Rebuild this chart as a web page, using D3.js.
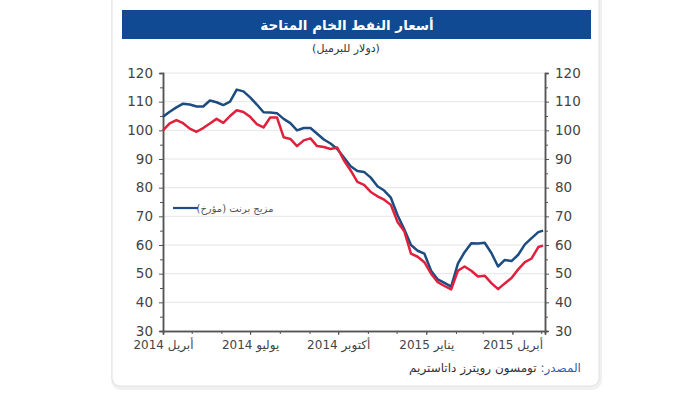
<!DOCTYPE html>
<html>
<head>
<meta charset="utf-8">
<script src="https://cdn.jsdelivr.net/npm/d3@7"></script>
<style>
  body { margin: 0; background: #fff; }
  svg { display: block; font-family: "DejaVu Sans", sans-serif; }
</style>
</head>
<body>
<svg id="chart" width="700" height="393"></svg>
<script>
// weekly readings, Brent (blue) and the red series
const dates = ["2014-04-01","2014-04-08","2014-04-15","2014-04-22","2014-04-29","2014-05-06","2014-05-13","2014-05-20",
  "2014-05-27","2014-06-03","2014-06-10","2014-06-17","2014-06-24","2014-07-01","2014-07-08","2014-07-15",
  "2014-07-22","2014-07-29","2014-08-05","2014-08-12","2014-08-19","2014-08-26","2014-09-02","2014-09-09",
  "2014-09-16","2014-09-23","2014-09-30","2014-10-07","2014-10-14","2014-10-21","2014-10-28","2014-11-04",
  "2014-11-11","2014-11-18","2014-11-25","2014-12-02","2014-12-09","2014-12-16","2014-12-23","2014-12-30",
  "2015-01-06","2015-01-13","2015-01-20","2015-01-27","2015-02-03","2015-02-10","2015-02-17","2015-02-24",
  "2015-03-03","2015-03-10","2015-03-17","2015-03-24","2015-03-31","2015-04-07","2015-04-14","2015-04-21",
  "2015-04-28","2015-05-03"];
const brent = [104.7,106.5,108,109.3,109,108.3,108.3,110.4,109.8,108.8,110,114.2,113.6,111.5,109,106.3,
  106.2,106,104,102.5,100,100.8,100.8,98.8,96.8,95.4,93.5,90.5,87.5,85.8,85.5,83.5,
  80.5,79,76.5,70.4,65.5,60,58,57,51,48,46.8,45.5,53.5,57.5,60.6,60.5,
  60.8,57.2,52.5,54.8,54.4,56.6,60.2,62.4,64.5,65];
const wti = [100,102.4,103.6,102.5,100.6,99.5,100.8,102.4,104,102.6,105,107,106.4,104.7,102.2,101,
  104.5,104.5,97.6,97,94.5,96.5,97.2,94.5,94.2,93.5,94,89.5,86,82,81,78.5,
  77,75.8,74,68,64.8,57,55.9,54,50,47,45.7,44.5,51,52.5,51,49,
  49.3,46.7,44.6,46.6,48.5,51.5,54,55.3,59.3,59.8];

const yTicks = [30,40,50,60,70,80,90,100,110,120];
const xTickDates = ["2014-04-01","2014-07-01","2014-10-01","2015-01-01","2015-04-01"];
const xTickLabels = ["أبريل 2014","يوليو 2014","أكتوبر 2014","يناير 2015","أبريل 2015"];

const title = "أسعار النفط الخام المتاحة";
const subtitle = "(دولار للبرميل)";
const legendLabel = "مزيج برنت (مؤرخ)";
const sourceLabel = "المصدر:";
const sourceText = "تومسون رويترز داتاستريم";

const parse = d3.timeParse("%Y-%m-%d");
const svg = d3.select("#chart");

// card
svg.append("rect").attr("x", 113).attr("y", -12).attr("width", 487).attr("height", 400)
  .attr("rx", 8).attr("fill", "none").attr("stroke", "#f0f0f0").attr("stroke-width", 4);
svg.append("rect").attr("x", 112).attr("y", -12).attr("width", 487).attr("height", 398)
  .attr("rx", 8).attr("fill", "#fff").attr("stroke", "#e2e2e2");

// header
svg.append("rect").attr("x", 122).attr("y", 10).attr("width", 469).attr("height", 29).attr("fill", "#0f4a92");
svg.append("text").attr("x", 347).attr("y", 30).attr("text-anchor", "middle")
  .style("direction", "rtl").attr("fill", "#fff").attr("font-weight", "bold").attr("font-size", 13.5).text(title);
svg.append("text").attr("x", 346).attr("y", 52).attr("text-anchor", "middle")
  .style("direction", "rtl").attr("fill", "#333").attr("font-size", 11).text(subtitle);

const x = d3.scaleTime().domain([parse("2014-04-01"), parse("2015-05-05")]).range([163, 545]);
const y = d3.scaleLinear().domain([30, 120]).range([331, 73]);

// grid
svg.append("g").selectAll("line").data(yTicks.slice(1)).enter().append("line")
  .attr("x1", 163).attr("x2", 545).attr("y1", d => y(d)).attr("y2", d => y(d))
  .attr("stroke", "#e6e6e6").attr("stroke-width", 1);

// minor ticks at 5s
const minor = d3.range(35, 120, 10);
const leftAxis = d3.axisLeft(y).tickValues(yTicks).tickSize(4).tickPadding(6);
const rightAxis = d3.axisRight(y).tickValues(yTicks).tickSize(4).tickPadding(6);
const gl = svg.append("g").attr("transform", "translate(163,0)").call(leftAxis);
const gr = svg.append("g").attr("transform", "translate(545,0)").call(rightAxis);
gl.append("g").call(d3.axisLeft(y).tickValues(minor).tickSize(3).tickFormat(""));
gr.append("g").call(d3.axisRight(y).tickValues(minor).tickSize(3).tickFormat(""));

const monthTicks = d3.timeMonth.range(parse("2014-04-01"), parse("2015-05-02"));
const bottomAxis = d3.axisBottom(x).tickValues(xTickDates.map(parse)).tickSize(4).tickPadding(5)
  .tickFormat((d, i) => xTickLabels[i]);
const gb = svg.append("g").attr("transform", "translate(0,331)").call(bottomAxis);
gb.append("g").call(d3.axisBottom(x).tickValues(monthTicks).tickSize(3).tickFormat(""));
gb.selectAll("text").style("direction", "rtl");

[gl, gr, gb].forEach(g => {
  g.selectAll(".domain").attr("stroke", "#555").attr("stroke-width", 1.5);
  g.selectAll("line").attr("stroke", "#555");
  g.selectAll("text").attr("fill", "#444").attr("font-size", 13.5).style("font-family", "DejaVu Sans");
});
gb.selectAll("text").attr("font-size", 12);

// lines
const lineFor = vals => d3.line().x((d, i) => x(parse(dates[i]))).y(d => y(d))(vals);
svg.append("path").attr("d", lineFor(brent)).attr("fill", "none")
  .attr("stroke", "#1d4c80").attr("stroke-width", 2.5).attr("stroke-linejoin", "round");
svg.append("path").attr("d", lineFor(wti)).attr("fill", "none")
  .attr("stroke", "#e0203c").attr("stroke-width", 2.5).attr("stroke-linejoin", "round");

// legend
svg.append("line").attr("x1", 173).attr("x2", 198).attr("y1", 208).attr("y2", 208)
  .attr("stroke", "#1d4c80").attr("stroke-width", 2.2);
svg.append("text").attr("x", 235).attr("y", 212).attr("text-anchor", "middle")
  .style("direction", "rtl").attr("fill", "#555").attr("font-size", 10).text(legendLabel);

// source
const src = svg.append("text").attr("x", 495).attr("y", 372).attr("text-anchor", "middle")
  .style("direction", "rtl").attr("font-size", 12);
src.append("tspan").attr("fill", "#2f5fa8").text(sourceLabel + " ");
src.append("tspan").attr("fill", "#333").text(sourceText);
</script>
</body>
</html>
